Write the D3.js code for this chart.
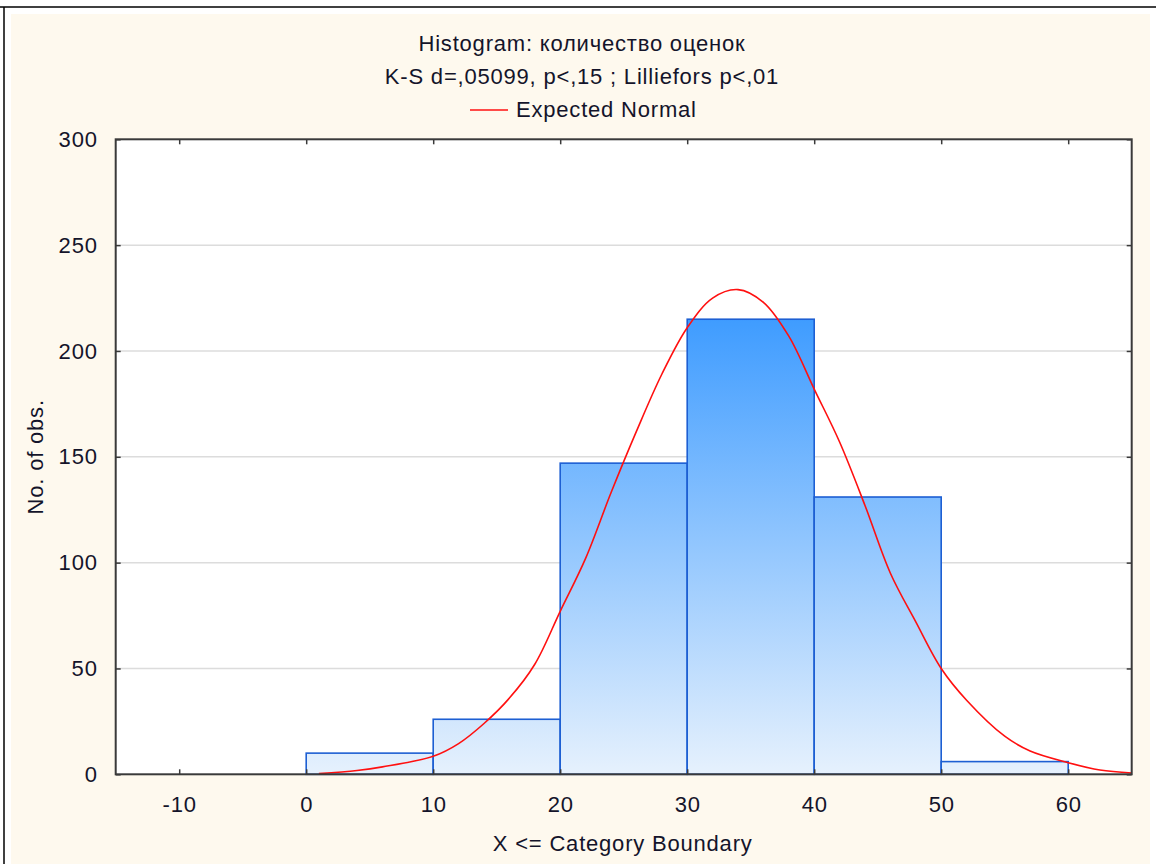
<!DOCTYPE html>
<html>
<head>
<meta charset="utf-8">
<script src="https://cdn.jsdelivr.net/npm/d3@7"></script>
<style>
  html, body { margin: 0; padding: 0; background: #fff; }
  svg { display: block; }
  text { font-family: 'Liberation Sans', Arial, sans-serif; fill: #14142a; letter-spacing: 0.8px; }
</style>
</head>
<body>
<svg id="chart"></svg>
<script>
/* histogram bins (lower / upper boundary) and counts */
const binLow = [0, 10, 20, 30, 40, 50]
const binHigh = [10, 20, 30, 40, 50, 60]
const counts = [10, 26, 147, 215, 131, 6]

/* expected normal curve */
const normalX = [1, 4, 6, 10, 12, 14, 16, 18, 20, 22, 24, 26, 28, 30, 32, 34, 36, 38, 40, 42, 44, 46, 48, 50, 52, 55, 57, 60, 62.5, 65]
const normalY = [0.3, 1.8, 3.5, 8.5, 14.5, 24, 36, 52, 77, 102, 133, 162, 189, 211, 225, 229, 223, 207, 182, 157, 127, 95, 72, 50, 35, 18, 11, 5.5, 2, 0.6]

const xTicks = [-10, 0, 10, 20, 30, 40, 50, 60]
const yTicks = [0, 50, 100, 150, 200, 250, 300]

const titleLines = ['Histogram: количество оценок', 'K-S d=,05099, p<,15 ; Lilliefors p<,01']
const legendLabel = 'Expected Normal'
const xLabel = 'X <= Category Boundary'
const yLabel = 'No. of obs.'

const width = 1156
const height = 864
const plot = { left: 115.7, right: 1131.7, top: 139.3, bottom: 774.3 }
const fontSize = 22

const svg = d3.select('#chart')
  .attr('width', width)
  .attr('height', height)

/* window frame + cream panel */
svg.append('rect')
  .attr('x', 11).attr('y', 14)
  .attr('width', 1139).attr('height', 850)
  .attr('fill', '#fef9ee')
svg.append('line')
  .attr('x1', 0).attr('x2', width).attr('y1', 7).attr('y2', 7)
  .attr('stroke', '#000').attr('stroke-width', 1.5)
svg.append('line')
  .attr('x1', 4).attr('x2', 4).attr('y1', 7).attr('y2', height)
  .attr('stroke', '#000').attr('stroke-width', 1.5)

const x = d3.scaleLinear().domain([-15, 65]).range([plot.left, plot.right])
const y = d3.scaleLinear().domain([0, 300]).range([plot.bottom, plot.top])

/* plot background */
svg.append('rect')
  .attr('x', plot.left).attr('y', plot.top)
  .attr('width', plot.right - plot.left).attr('height', plot.bottom - plot.top)
  .attr('fill', '#fff')

svg.append('clipPath').attr('id', 'clip')
  .append('rect')
  .attr('x', plot.left).attr('y', plot.top)
  .attr('width', plot.right - plot.left).attr('height', plot.bottom - plot.top)

/* gridlines */
svg.append('g')
  .selectAll('line')
  .data(yTicks.filter(d => d > 0 && d < 300))
  .enter().append('line')
  .attr('x1', plot.left).attr('x2', plot.right)
  .attr('y1', d => y(d)).attr('y2', d => y(d))
  .attr('stroke', '#dcdcdc').attr('stroke-width', 1.5)

/* bar gradient */
const grad = svg.append('defs').append('linearGradient')
  .attr('id', 'barFill')
  .attr('gradientUnits', 'userSpaceOnUse')
  .attr('x1', 0).attr('x2', 0)
  .attr('y1', y(d3.max(counts))).attr('y2', y(0))
grad.append('stop').attr('offset', 0).attr('stop-color', '#3f9cff')
grad.append('stop').attr('offset', 1).attr('stop-color', '#e6f1fd')

svg.append('g')
  .selectAll('rect')
  .data(counts)
  .enter().append('rect')
  .attr('x', (d, i) => x(binLow[i]))
  .attr('width', (d, i) => x(binHigh[i]) - x(binLow[i]))
  .attr('y', d => y(d))
  .attr('height', d => y(0) - y(d))
  .attr('fill', 'url(#barFill)')
  .attr('stroke', '#1d5fd3')
  .attr('stroke-width', 1.6)

/* expected normal */
const line = d3.line()
  .x(d => x(d[0]))
  .y(d => y(d[1]))
  .curve(d3.curveCatmullRom)

svg.append('path')
  .datum(normalX.map((v, i) => [v, normalY[i]]))
  .attr('clip-path', 'url(#clip)')
  .attr('d', line)
  .attr('fill', 'none')
  .attr('stroke', '#ff1010')
  .attr('stroke-width', 1.6)

/* axes: ticks pointing inward on all four sides */
const axisColor = '#3a3a3a'
svg.append('g')
  .attr('transform', `translate(0,${plot.bottom})`)
  .call(d3.axisBottom(x).tickValues(xTicks).tickSize(-5).tickPadding(22).tickFormat(d => String(d)))
  .call(g => g.select('.domain').remove())
svg.append('g')
  .attr('transform', `translate(0,${plot.top})`)
  .call(d3.axisTop(x).tickValues(xTicks).tickSize(-5).tickFormat(''))
  .call(g => g.select('.domain').remove())
svg.append('g')
  .attr('transform', `translate(${plot.left},0)`)
  .call(d3.axisLeft(y).tickValues(yTicks).tickSize(-5).tickPadding(18))
  .call(g => g.select('.domain').remove())
svg.append('g')
  .attr('transform', `translate(${plot.right},0)`)
  .call(d3.axisRight(y).tickValues(yTicks).tickSize(-5).tickFormat(''))
  .call(g => g.select('.domain').remove())

svg.selectAll('.tick line').attr('stroke', axisColor).attr('stroke-width', 1.5)
svg.selectAll('.tick text')
  .attr('fill', '#14142a')
  .attr('font-size', fontSize)
  .attr('font-family', "'Liberation Sans', Arial, sans-serif")

svg.append('rect')
  .attr('x', plot.left).attr('y', plot.top)
  .attr('width', plot.right - plot.left).attr('height', plot.bottom - plot.top)
  .attr('fill', 'none')
  .attr('stroke', axisColor)
  .attr('stroke-width', 2)

/* titles + legend */
const cx = 582
svg.selectAll('text.title')
  .data(titleLines)
  .enter().append('text')
  .attr('class', 'title')
  .attr('x', cx)
  .attr('y', (d, i) => 51 + i * 33)
  .attr('text-anchor', 'middle')
  .attr('font-size', fontSize)
  .text(d => d)

svg.append('line')
  .attr('x1', 470).attr('x2', 508)
  .attr('y1', 110).attr('y2', 110)
  .attr('stroke', '#ff1010').attr('stroke-width', 1.6)
svg.append('text')
  .attr('x', 516).attr('y', 117)
  .attr('font-size', fontSize)
  .text(legendLabel)

svg.append('text')
  .attr('x', (plot.left + plot.right) / 2 - 1)
  .attr('y', 851)
  .attr('text-anchor', 'middle')
  .attr('font-size', fontSize)
  .text(xLabel)

svg.append('text')
  .attr('transform', `translate(43,${(plot.top + plot.bottom) / 2}) rotate(-90)`)
  .attr('text-anchor', 'middle')
  .attr('font-size', fontSize)
  .text(yLabel)
</script>
</body>
</html>
